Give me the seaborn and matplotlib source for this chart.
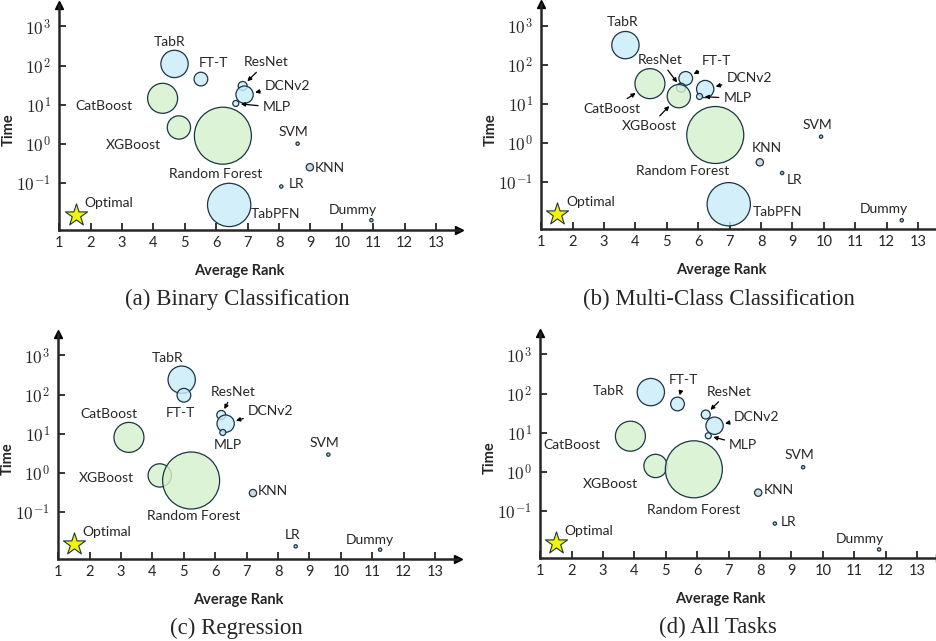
import numpy as np
import pandas as pd
import matplotlib
matplotlib.use("Agg")
import matplotlib.pyplot as plt
import seaborn as sns
from matplotlib.ticker import NullLocator

# ---- data ----
models = ["TabR", "FT-T", "ResNet", "DCNv2", "MLP", "CatBoost", "XGBoost",
          "Random Forest", "SVM", "KNN", "LR", "TabPFN", "Dummy"]
family = ["deep", "deep", "deep", "deep", "deep", "tree", "tree",
          "tree", "small", "knn", "small", "deep", "small"]
# bubble diameter in pixels (model size)
bubble_diam = [27.3, 13.7, 9.0, 17.3, 6.0, 30.0, 23.3, 57.0, 3.3, 7.3, 3.3, 43.3, 3.3]

rank_binary = [4.67, 5.51, 6.84, 6.90, 6.62, 4.29, 4.81, 6.21, 8.59, 8.98, 8.07, 6.41, 10.94]
time_binary = [110, 45, 30, 18, 10.7, 14.5, 2.6, 1.6, 1.0, 0.25, 0.08, 0.027, 0.011]

rank_multi = [3.68, 5.60, 5.45, 6.22, 6.04, 4.46, 5.38, 6.54, 9.91, 7.96, 8.67, 6.97, 12.48]
time_multi = [320, 45, 26, 24, 15.5, 33, 15.8, 1.6, 1.45, 0.32, 0.17, 0.027, 0.0105]

rank_reg = [4.93, 5.00, 6.19, 6.33, 6.24, 3.25, 4.23, 5.23, 9.60, 7.20, 8.56, np.nan, 11.25]
time_reg = [240, 96, 30, 18, 10.7, 8.0, 0.85, 0.63, 2.9, 0.30, 0.013, np.nan, 0.0107]

rank_all = [4.52, 5.37, 6.27, 6.55, 6.35, 3.87, 4.67, 5.89, 9.37, 7.94, 8.47, np.nan, 11.79]
time_all = [109, 54, 29, 15, 8.3, 8.1, 1.4, 1.15, 1.3, 0.29, 0.047, np.nan, 0.0102]

optimal_rank = [1.53, 1.51, 1.50, 1.50]
optimal_time = [0.015, 0.015, 0.015, 0.015]

captions = ["(a) Binary Classification", "(b) Multi-Class Classification",
            "(c) Regression", "(d) All Tasks"]

# ---- style ----
sns.set_style("ticks")
plt.rcParams["font.family"] = ["Lato", "DejaVu Sans"]
plt.rcParams["mathtext.fontset"] = "cm"

colors = {"deep": "#c9ecfaD0", "tree": "#d6f1cdD0", "knn": "#d2dbe0", "small": "#b8d2e0"}
edge = "#1a3546"

# label offsets in pixels (dx, dy, arrow)
layouts = [
    {"TabR": (-5, 22, False), "FT-T": (13, 16, False), "ResNet": (24, 24, True),
     "DCNv2": (43, 9, True), "MLP": (41, -4, True), "CatBoost": (-59, -8, False),
     "XGBoost": (-46, -18, False), "Random Forest": (-7, -38, False),
     "SVM": (-4, 12, False), "KNN": (20, -1, False), "LR": (15, 3, False),
     "TabPFN": (46, -9, False), "Dummy": (-19, 10, False)},
    {"TabR": (-3, 23, False), "FT-T": (31, 17, True), "ResNet": (-21, 28, True),
     "DCNv2": (44, 11, True), "MLP": (38, -2, True), "CatBoost": (-38, -25, True),
     "XGBoost": (-29, -30, True), "Random Forest": (-33, -36, False),
     "SVM": (-4, 12, False), "KNN": (7, 14, False), "LR": (12, -7, False),
     "TabPFN": (49, -8, False), "Dummy": (-18, 11, False)},
    {"TabR": (-14, 22, False), "FT-T": (-3, -18, False), "ResNet": (12, 23, True),
     "DCNv2": (45, 13, True), "MLP": (5, -13, False), "CatBoost": (-20, 23, False),
     "XGBoost": (-53, -3, False), "Random Forest": (3, -35, False),
     "SVM": (-4, 12, False), "KNN": (20, 2, False), "LR": (-3, 11, False),
     "Dummy": (-10, 10, False)},
    {"TabR": (-42, 1, False), "FT-T": (6, 24, True), "ResNet": (23, 23, True),
     "DCNv2": (42, 9, True), "MLP": (35, -9, True), "CatBoost": (-58, -9, False),
     "XGBoost": (-45, -18, False), "Random Forest": (0, -41, False),
     "SVM": (-4, 12, False), "KNN": (21, 3, False), "LR": (14, 2, False),
     "Dummy": (-19, 10, False)},
]

W, H = 936, 641
rects = [(59.3, 230), (541.3, 229.3), (58.3, 559), (540.3, 558)]
ranks = [rank_binary, rank_multi, rank_reg, rank_all]
times = [time_binary, time_multi, time_reg, time_all]

fig = plt.figure(figsize=(W / 100, H / 100), dpi=100)

for i in range(4):
    left, bottom = rects[i]
    ax = fig.add_axes([left / W, 1 - bottom / H, 399.7 / W, 225 / H])

    df = pd.DataFrame({"model": models, "family": family, "rank": ranks[i],
                       "time": times[i], "diam": bubble_diam}).dropna()
    area = {m: (d * 0.72) ** 2 for m, d in zip(df["model"], df["diam"])}
    pal = {m: colors[f] for m, f in zip(df["model"], df["family"])}

    sns.scatterplot(data=df, x="rank", y="time", hue="model", size="model",
                    sizes=area, palette=pal, edgecolor=edge, linewidth=0.9,
                    legend=False, ax=ax, zorder=3)
    sns.scatterplot(x=[optimal_rank[i]], y=[optimal_time[i]], marker="*", s=280,
                    color="#f4f400", edgecolor=edge, linewidth=0.8, ax=ax, zorder=4)
    ax.annotate("Optimal", (optimal_rank[i], optimal_time[i]), xytext=(33, 12),
                textcoords="offset pixels", ha="center", va="center", fontsize=10)

    for _, row in df.iterrows():
        dx, dy, arrow = layouts[i][row["model"]]
        props = None
        if arrow:
            props = dict(arrowstyle="-|>", color="k", lw=0.9, mutation_scale=6,
                         shrinkA=1, shrinkB=row["diam"] * 0.36 + 1.5)
        ax.annotate(row["model"], (row["rank"], row["time"]), xytext=(dx, dy),
                    textcoords="offset pixels", ha="center", va="center",
                    fontsize=10, arrowprops=props, zorder=5)

    ax.set_yscale("log")
    ax.set_xlim(1, 13.73)
    ax.set_ylim(10 ** -2.21, 10 ** 3.55)
    ax.set_xticks(range(1, 14))
    ax.set_yticks([0.1, 1, 10, 100, 1000],
                  labels=[r"$10^{-1}$", r"$10^{0}$", r"$10^{1}$", r"$10^{2}$", r"$10^{3}$"])
    ax.yaxis.set_minor_locator(NullLocator())
    ax.tick_params(direction="in", length=5, width=1.3, labelsize=10.5)
    ax.tick_params(axis="y", pad=6, labelsize=12.5)
    ax.tick_params(axis="x", pad=4)

    for s in ["top", "right"]:
        ax.spines[s].set_visible(False)
    for s in ["left", "bottom"]:
        ax.spines[s].set_linewidth(1.8)
    ax.plot(1, 0, ">k", ms=6, transform=ax.transAxes, clip_on=False)
    ax.plot(0, 1, "^k", ms=6, transform=ax.transAxes, clip_on=False)

    ax.set_xlabel("Average Rank", fontsize=10.5, fontweight="bold")
    ax.set_ylabel("Time", fontsize=10.5, fontweight="bold")
    ax.xaxis.set_label_coords(0.45, -0.15)
    ax.yaxis.set_label_coords(-0.108, 0.445)

    ax.text(0.445, -0.31, captions[i], transform=ax.transAxes, ha="center",
            va="center", fontsize=16.5, family="Liberation Serif")

fig.savefig("out.png", dpi=100)
